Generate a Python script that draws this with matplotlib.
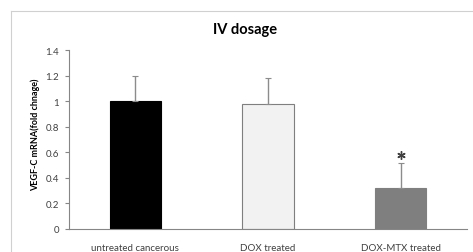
import matplotlib
matplotlib.use('Agg')
import matplotlib.pyplot as plt
from matplotlib.lines import Line2D

categories = ["untreated cancerous", "DOX treated", "DOX-MTX treated"]
values = [1.0, 0.98, 0.32]
errors = [0.20, 0.20, 0.20]
star_y = 0.58
bar_colors = ["#000000", "#f2f2f2", "#7f7f7f"]
edge_colors = ["#000000", "#7f7f7f", "#7f7f7f"]
yticks = [0, 0.2, 0.4, 0.6, 0.8, 1, 1.2, 1.4]
ytick_labels = ["0", "0.2", "0.4", "0.6", "0.8", "1", "1.2", "1.4"]

plt.rcParams['font.family'] = ['Lato', 'DejaVu Sans']

fig = plt.figure(figsize=(4.73, 2.53), dpi=100)
ax = fig.add_axes([0.146, 0.091, 0.841, 0.707])

x = list(range(len(categories)))
ax.bar(x, values, width=0.39, color=bar_colors, edgecolor=edge_colors,
       linewidth=0.8, zorder=2)
ax.errorbar(x, values, yerr=[[0] * 3, errors], fmt='none', ecolor='#8c8c8c',
            elinewidth=1.0, capsize=2, capthick=0.8, zorder=3)
# significance mark
ax.plot([2], [star_y], marker=(6, 2, 0), markersize=6, color='#404040',
        markeredgewidth=1.0, linestyle='none', zorder=3)

ax.set_xlim(-0.5, 2.5)
ax.set_ylim(0, 1.4)
ax.set_yticks(yticks)
ax.set_yticklabels(ytick_labels)
ax.set_xticks(x)
ax.set_xticklabels(categories)
ax.tick_params(axis='y', length=3, width=0.8, color='#868686',
               labelsize=7, labelcolor='#404040', pad=4)
ax.tick_params(axis='x', length=0, labelsize=7, labelcolor='#404040', pad=10)
for s in ['top', 'right']:
    ax.spines[s].set_visible(False)
for s in ['left', 'bottom']:
    ax.spines[s].set_color('#868686')
    ax.spines[s].set_linewidth(0.8)

ax.set_ylabel('VEGF-C mRNA(fold chnage)', fontsize=6.5, fontweight='bold',
              labelpad=4)
ax.yaxis.label.set_y(0.53)
fig.text(0.518, 0.88, 'IV dosage', ha='center', va='center',
         fontsize=10.5, fontweight='bold')

# outer chart frame (partly cut off)
fig.add_artist(Line2D([11 / 473, 1.0], [1 - 12 / 253, 1 - 12 / 253],
                      color='#d0d0d0', linewidth=0.8))
fig.add_artist(Line2D([11 / 473, 11 / 473], [0.0, 1 - 12 / 253],
                      color='#d0d0d0', linewidth=0.8))

fig.savefig('out.png', dpi=100)
